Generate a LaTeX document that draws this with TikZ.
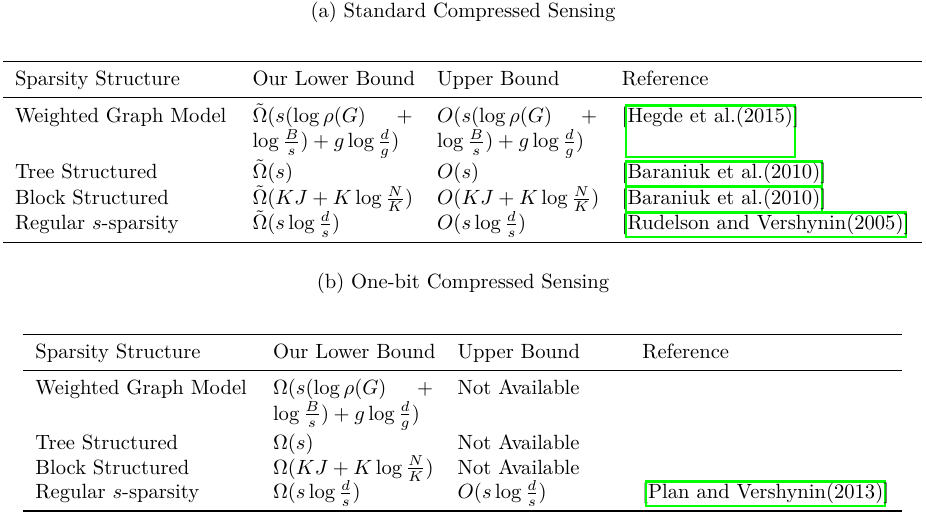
\documentclass[tikz,border=0pt]{standalone}
\usepackage{amsmath}
\definecolor{linkgreen}{rgb}{0,1,0}
\begin{document}
\begin{tikzpicture}[x=0.4854pt,y=-0.4854pt,
  txt/.style={anchor=base west, inner sep=0pt, outer sep=0pt},
  ttl/.style={anchor=base, inner sep=0pt, outer sep=0pt},
  heavyrule/.style={line width=0.8pt},
  lightrule/.style={line width=0.5pt},
  citebox/.style={draw=linkgreen, line width=1pt, anchor=base west, inner xsep=1pt, inner ysep=1pt, text height=7.5pt, text depth=2.5pt, outer sep=0pt},
  ]
\useasboundingbox (0,0) rectangle (926,514);
\newcommand{\firstline}[1]{\makebox[77.7pt][l]{#1\hfill$+$}}
% ---------------- (a) ----------------
\node[ttl] (ta) at (463,18) {(a) Standard Compressed Sensing};
\draw[heavyrule] (3,61.5) -- (922,61.5);
\node[txt] (ah1) at (15,85.5) {Sparsity Structure};
\node[txt] (ah2) at (252.5,85.5) {Our Lower Bound};
\node[txt] (ah3) at (437.2,85.5) {Upper Bound};
\node[txt] (ah4) at (621.9,85.5) {Reference};
\draw[lightrule] (3,97.5) -- (922,97.5);
% row 1
\node[txt] (a11) at (15,123) {Weighted Graph Model};
\node[txt] (a12) at (252.5,123) {\firstline{$\tilde{\Omega}(s(\log\rho(G)$}};
\node[txt] (a12b) at (252.5,148) {$\log\frac{B}{s})+g\log\frac{d}{g})$};
\node[txt] (a13) at (437.2,123) {\firstline{$O(s(\log\rho(G)$}};
\node[txt] (a13b) at (437.2,148) {$\log\frac{B}{s})+g\log\frac{d}{g})$};
\node[txt] (ab1) at (621.9,123) {[};
\node[citebox, text depth=15.5pt] (ac1) at ([xshift=-1pt]ab1.base east) {Hegde et al.(2015)};
\node[txt] (ae1) at ([xshift=-1pt]ac1.base east) {]};
% row 2
\node[txt] (a21) at (15,179) {Tree Structured};
\node[txt] (a22) at (252.5,179) {$\tilde{\Omega}(s)$};
\node[txt] (a23) at (437.2,179) {$O(s)$};
\node[txt] (ab2) at (621.9,179) {[};
\node[citebox] (ac2) at ([xshift=-1pt]ab2.base east) {Baraniuk et al.(2010)};
\node[txt] (ae2) at ([xshift=-1pt]ac2.base east) {]};
% row 3
\node[txt] (a31) at (15,204.5) {Block Structured};
\node[txt] (a32) at (252.5,204.5) {$\tilde{\Omega}(KJ+K\log\frac{N}{K})$};
\node[txt] (a33) at (437.2,204.5) {$O(KJ+K\log\frac{N}{K})$};
\node[txt] (ab3) at (621.9,204.5) {[};
\node[citebox] (ac3) at ([xshift=-1pt]ab3.base east) {Baraniuk et al.(2010)};
\node[txt] (ae3) at ([xshift=-1pt]ac3.base east) {]};
% row 4
\node[txt] (a41) at (15,230) {Regular $s$-sparsity};
\node[txt] (a42) at (252.5,230) {$\tilde{\Omega}(s\log\frac{d}{s})$};
\node[txt] (a43) at (437.2,230) {$O(s\log\frac{d}{s})$};
\node[txt] (ab4) at (621.9,230) {[};
\node[citebox] (ac4) at ([xshift=-1pt]ab4.base east) {Rudelson and Vershynin(2005)};
\node[txt] (ae4) at ([xshift=-1pt]ac4.base east) {]};
\draw[heavyrule] (3,242.5) -- (922,242.5);
% ---------------- (b) ----------------
\node[ttl] (tb) at (463,288.5) {(b) One-bit Compressed Sensing};
\draw[heavyrule] (23,334.5) -- (902,334.5);
\node[txt] (bh1) at (35.5,359) {Sparsity Structure};
\node[txt] (bh2) at (273,359) {Our Lower Bound};
\node[txt] (bh3) at (457.7,359) {Upper Bound};
\node[txt] (bh4) at (642.4,359) {Reference};
\draw[lightrule] (23,370.5) -- (902,370.5);
% row 1
\node[txt] (b11) at (35.5,395) {Weighted Graph Model};
\node[txt] (b12) at (273,395) {\firstline{$\Omega(s(\log\rho(G)$}};
\node[txt] (b12b) at (273,420) {$\log\frac{B}{s})+g\log\frac{d}{g})$};
\node[txt] (b13) at (457.7,395) {Not Available};
% row 2
\node[txt] (b21) at (35.5,449) {Tree Structured};
\node[txt] (b22) at (273,449) {$\Omega(s)$};
\node[txt] (b23) at (457.7,449) {Not Available};
% row 3
\node[txt] (b31) at (35.5,474) {Block Structured};
\node[txt] (b32) at (273,474) {$\Omega(KJ+K\log\frac{N}{K})$};
\node[txt] (b33) at (457.7,474) {Not Available};
% row 4
\node[txt] (b41) at (35.5,499) {Regular $s$-sparsity};
\node[txt] (b42) at (273,499) {$\Omega(s\log\frac{d}{s})$};
\node[txt] (b43) at (457.7,499) {$O(s\log\frac{d}{s})$};
\node[txt] (bb4) at (642.4,499) {[};
\node[citebox] (bc4) at ([xshift=-1pt]bb4.base east) {Plan and Vershynin(2013)};
\node[txt] (be4) at ([xshift=-1pt]bc4.base east) {]};
\draw[heavyrule] (23,511) -- (902,511);
\end{tikzpicture}
\end{document}
